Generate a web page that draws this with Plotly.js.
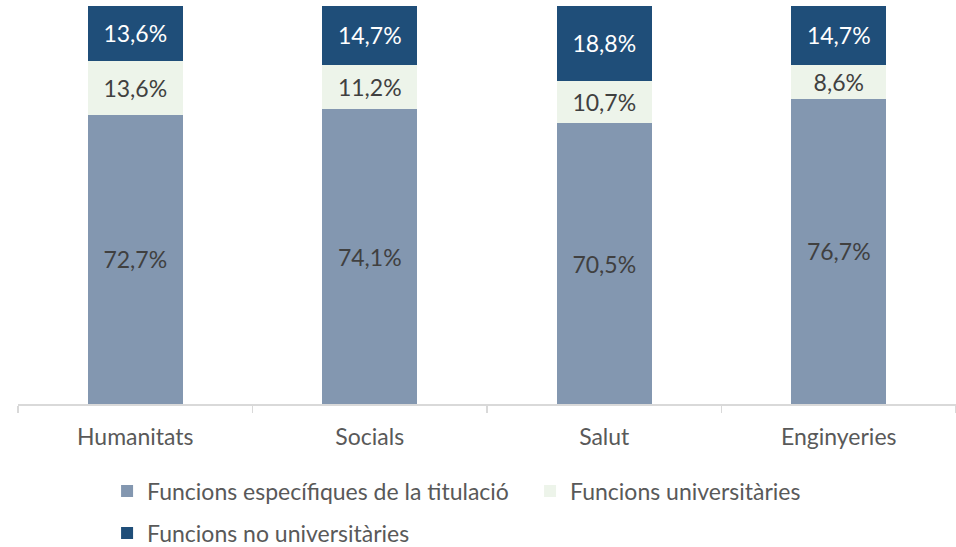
<!DOCTYPE html>
<html>
<head>
<meta charset="utf-8">
<script src="https://cdn.plot.ly/plotly-3.0.1.min.js"></script>
<style>html,body{margin:0;padding:0;background:#fff;}#chart{width:956px;height:547px;}</style>
</head>
<body>
<div id="chart"></div>
<script>
const categories = ["Humanitats", "Socials", "Salut", "Enginyeries"];
const especifiques = [72.7, 74.1, 70.5, 76.7];
const universitaries = [13.6, 11.2, 10.7, 8.6];
const noUniversitaries = [13.6, 14.7, 18.8, 14.7];
const seriesNames = ["Funcions específiques de la titulació", "Funcions universitàries", "Funcions no universitàries"];

const FONT = "Lato, 'Open Sans', sans-serif";
const FS = 23;
const traces = [
  {type: "bar", x: categories, y: especifiques, name: seriesNames[0],
   marker: {color: "#8397B0"}, legend: "legend",
   texttemplate: "%{y:.1f}%", textposition: "inside", insidetextanchor: "middle", textangle: 0,
   textfont: {family: FONT, size: FS, color: "#404040"}},
  {type: "bar", x: categories, y: universitaries, name: seriesNames[1],
   marker: {color: "#EDF4EA"}, legend: "legend",
   texttemplate: "%{y:.1f}%", textposition: "inside", insidetextanchor: "middle", textangle: 0,
   textfont: {family: FONT, size: FS, color: "#404040"}},
  {type: "bar", x: categories, y: noUniversitaries, name: seriesNames[2],
   marker: {color: "#1F4E79"}, legend: "legend2",
   texttemplate: "%{y:.1f}%", textposition: "inside", insidetextanchor: "middle", textangle: 0,
   textfont: {family: FONT, size: FS, color: "#FFFFFF"}}
];

const layout = {
  width: 956, height: 547,
  margin: {l: 18, r: 0, t: 6, b: 143},
  barmode: "stack",
  bargap: 0.595,
  separators: ",.",
  paper_bgcolor: "#fff", plot_bgcolor: "#fff",
  font: {family: FONT, color: "#595959", size: FS},
  uniformtext: {mode: false},
  xaxis: {
    type: "category",
    showline: true, linecolor: "#D9D9D9", linewidth: 1.5,
    ticks: "outside", tickson: "boundaries", ticklen: 7, tickcolor: "#D9D9D9", tickwidth: 1.5,
    ticklabelstandoff: 12,
    tickfont: {family: FONT, size: FS, color: "#595959"},
    showgrid: false, zeroline: false
  },
  yaxis: {range: [0, 100], visible: false, showgrid: false, zeroline: false, fixedrange: true},
  legend: {orientation: "h", xref: "container", yref: "container", x: 0.112, y: 1 - 491/547,
           xanchor: "left", yanchor: "middle", entrywidth: 378, traceorder: "normal",
           font: {family: FONT, size: FS, color: "#595959"}, bgcolor: "rgba(0,0,0,0)"},
  legend2: {orientation: "h", xref: "container", yref: "container", x: 0.112, y: 1 - 533/547,
           xanchor: "left", yanchor: "middle",
           font: {family: FONT, size: FS, color: "#595959"}, bgcolor: "rgba(0,0,0,0)"},
  showlegend: true
};

Plotly.newPlot("chart", traces, layout, {displayModeBar: false, staticPlot: true});
</script>
</body>
</html>
